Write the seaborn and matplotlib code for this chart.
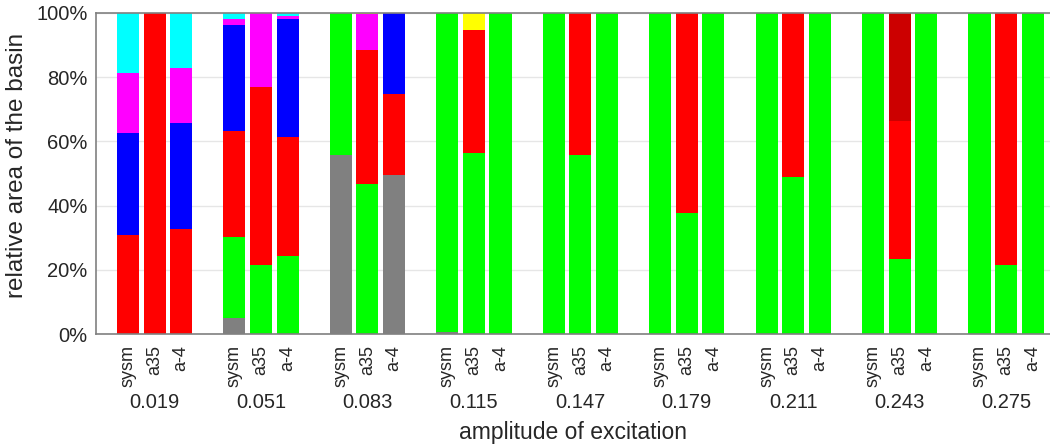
import numpy as np
import pandas as pd
import matplotlib
matplotlib.use('Agg')
import matplotlib.pyplot as plt
import seaborn as sns

# amplitude groups and the three systems per group
amplitudes = ['0.019', '0.051', '0.083', '0.115', '0.147', '0.179', '0.211', '0.243', '0.275']
systems = ['sysm', 'a35', 'a-4']

# basin shares in percent, one value per bar (group order, then system order)
gray = [0, 0, 0, 5.1, 0, 0, 55.7, 0, 49.6, 0.5, 0, 0,
        0, 0, 0, 0, 0, 0, 0, 0, 0, 0, 0, 0, 0, 0, 0]
green = [0, 0, 0, 25.1, 21.4, 24.2, 44.3, 46.8, 0, 99.5, 56.5, 100,
         100, 55.8, 100, 100, 37.6, 100, 100, 48.8, 100, 100, 23.3, 100, 100, 21.5, 100]
red = [30.8, 100, 32.7, 33.0, 55.5, 37.3, 0, 41.7, 25.2, 0, 38.2, 0,
       0, 44.2, 0, 0, 62.4, 0, 0, 51.2, 0, 0, 43.1, 0, 0, 78.5, 0]
darkred = [0, 0, 0, 0, 0, 0, 0, 0, 0, 0, 0, 0,
           0, 0, 0, 0, 0, 0, 0, 0, 0, 0, 33.6, 0, 0, 0, 0]
blue = [31.7, 0, 33.1, 33.0, 0, 36.6, 0, 0, 25.2, 0, 0, 0,
        0, 0, 0, 0, 0, 0, 0, 0, 0, 0, 0, 0, 0, 0, 0]
magenta = [18.7, 0, 17.2, 1.8, 23.1, 0.9, 0, 11.2, 0, 0, 0, 0,
           0, 0, 0, 0, 0, 0, 0, 0, 0, 0, 0, 0, 0, 0, 0]
cyan = [18.8, 0, 17.0, 2.0, 0, 1.0, 0, 0, 0, 0, 0, 0,
        0, 0, 0, 0, 0, 0, 0, 0, 0, 0, 0, 0, 0, 0, 0]
yellow = [0, 0, 0, 0, 0, 0, 0, 0.3, 0, 0, 5.3, 0,
          0, 0, 0, 0, 0, 0, 0, 0, 0, 0, 0, 0, 0, 0, 0]

layers = [gray, green, red, darkred, blue, magenta, cyan, yellow]
layer_colors = ['#808080', '#00ff00', '#ff0000', '#cc0000', '#0000ff', '#ff00ff', '#00ffff', '#ffff00']

# bar positions: 3 bars per group, one empty slot between groups
pos = [4 * g + j for g in range(len(amplitudes)) for j in range(len(systems))]
bar_labels = [s for g in amplitudes for s in systems]

sns.set_theme(style='white')
plt.rcParams['font.family'] = ['Liberation Sans', 'DejaVu Sans']
txt = '#262626'

fig = plt.figure(figsize=(10.5, 4.46), dpi=100)
ax = fig.add_axes([96 / 1050, 1 - 334 / 446, 1 - 96 / 1050, (334 - 13) / 446])

# stacked bars: draw cumulative totals from the top layer down
cum = np.cumsum(np.array(layers, dtype=float), axis=0)
for k in range(len(layers) - 1, -1, -1):
    sns.barplot(x=pos, y=cum[k], native_scale=True, color=layer_colors[k],
                saturation=1, width=0.83, linewidth=0, errorbar=None, ax=ax)

ax.set_xlim(-1.2, 34.65)
ax.set_ylim(0, 100)
ax.set_yticks([0, 20, 40, 60, 80, 100])
ax.set_yticklabels([f'{v}%' for v in [0, 20, 40, 60, 80, 100]], fontsize=14.5, color=txt)
ax.yaxis.grid(True, color='#e6e6e6', linewidth=1)
ax.set_axisbelow(True)
ax.set_xticks(pos)
ax.set_xticklabels(bar_labels, rotation=90, fontsize=13, color=txt,
                   ha='right', va='center', rotation_mode='anchor')
ax.tick_params(axis='both', length=0)
ax.tick_params(axis='x', pad=8)
ax.tick_params(axis='y', pad=6)

for side in ['left', 'top', 'bottom']:
    ax.spines[side].set_color('#808080')
    ax.spines[side].set_linewidth(1.2)
ax.spines['right'].set_visible(False)

# group labels under the system labels
for g, amp in enumerate(amplitudes):
    ax.text(4 * g + 1, -(402 - 334) / 321 * 100, amp, ha='center', va='center',
            fontsize=14.5, color=txt, transform=ax.transData, clip_on=False)

ax.set_ylabel('relative area of the basin', fontsize=17.5, color=txt)
ax.yaxis.set_label_coords(-0.071, 0.525)
fig.text((96 + 1050) / 2 / 1050, 1 - 432 / 446, 'amplitude of excitation',
         ha='center', va='center', fontsize=16.5, color=txt)
ax.set_xlabel('')

fig.savefig('out.png', dpi=100)
